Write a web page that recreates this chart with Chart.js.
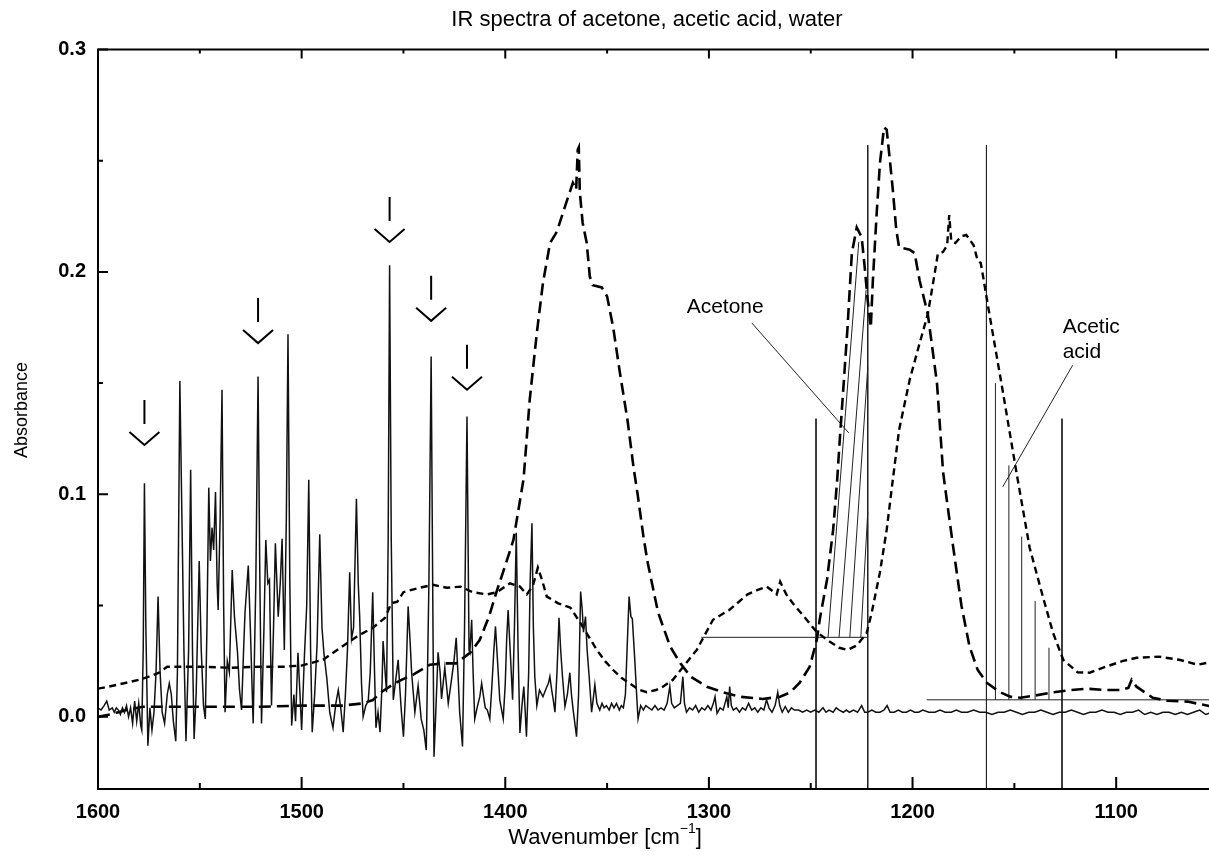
<!DOCTYPE html>
<html>
<head>
<meta charset="utf-8">
<script src="https://cdn.jsdelivr.net/npm/chart.js@4.4.1/dist/chart.umd.min.js"></script>
<style>
  html, body { margin: 0; padding: 0; background: #fff; overflow: hidden; }
  #wrap { width: 1209px; height: 856px; overflow: hidden; }
  canvas { display: block; }
</style>
</head>
<body>
<div id="wrap"><canvas id="ir" width="1230" height="856"></canvas></div>
<script>
// ---- spectra (wavenumber in cm-1, absorbance) ----
const acetoneWn = [1600, 1594, 1586, 1578, 1560, 1540, 1520, 1500, 1480, 1470, 1465, 1461, 1456, 1451, 1445, 1437, 1430, 1424, 1417, 1412.5, 1408, 1404, 1400, 1396, 1391, 1388, 1384.5, 1381.5, 1378, 1374.7, 1371.7, 1368.3, 1366.8, 1365.2, 1364.4, 1363.9, 1363.4, 1362, 1360, 1358.5, 1357, 1352.6, 1350, 1347, 1343.7, 1340, 1337, 1335, 1332, 1330, 1325, 1319, 1314, 1309, 1301, 1293, 1285, 1273.5, 1265, 1260, 1255.4, 1250.5, 1247, 1245.6, 1242, 1239, 1237, 1236, 1232, 1229.8, 1227.4, 1225, 1223.5, 1222, 1220.5, 1219.5, 1217.6, 1216, 1214, 1212.7, 1211, 1209.7, 1208, 1206.6, 1201.4, 1199, 1196.5, 1192.5, 1188, 1185, 1184, 1180, 1176, 1172, 1168, 1163.6, 1157, 1152, 1147, 1140, 1131, 1122, 1114.5, 1105, 1098, 1094, 1092.4, 1090, 1086, 1082, 1075, 1065, 1058, 1050];
const acetoneAbs = [0.0, 0.001, 0.003, 0.0045, 0.0045, 0.0045, 0.0045, 0.005, 0.005, 0.006, 0.0075, 0.011, 0.014, 0.0166, 0.019, 0.0234, 0.024, 0.024, 0.029, 0.0346, 0.045, 0.057, 0.068, 0.0795, 0.107, 0.1425, 0.1726, 0.195, 0.213, 0.218, 0.2265, 0.236, 0.240, 0.237, 0.255, 0.256, 0.236, 0.222, 0.213, 0.198, 0.194, 0.193, 0.189, 0.175, 0.1546, 0.1335, 0.112, 0.1, 0.08, 0.069, 0.047, 0.0315, 0.024, 0.018, 0.0135, 0.011, 0.009, 0.008, 0.009, 0.011, 0.0153, 0.0225, 0.0346, 0.0436, 0.0616, 0.084, 0.1065, 0.121, 0.174, 0.2085, 0.220, 0.2157, 0.2022, 0.187, 0.175, 0.196, 0.2265, 0.249, 0.265, 0.264, 0.249, 0.237, 0.219, 0.211, 0.210, 0.2085, 0.196, 0.181, 0.15, 0.11, 0.103, 0.076, 0.05, 0.0315, 0.021, 0.0153, 0.011, 0.009, 0.0085, 0.0095, 0.011, 0.012, 0.0126, 0.012, 0.012, 0.013, 0.0166, 0.0135, 0.011, 0.0085, 0.0072, 0.0068, 0.0055, 0.004];

const aceticWn = [1600, 1595, 1590, 1585, 1580, 1575, 1570, 1566, 1550, 1535, 1520, 1509, 1500, 1489.5, 1481, 1473, 1465, 1459, 1456, 1453, 1450, 1442, 1435.5, 1428.7, 1422, 1416, 1409, 1404, 1397.7, 1392.8, 1389.4, 1386.4, 1384, 1382, 1379.6, 1374, 1368, 1363, 1359, 1355, 1351, 1347, 1343, 1339, 1334, 1330.5, 1326, 1322.6, 1317.7, 1313, 1306, 1298, 1290, 1281, 1276, 1271.6, 1268, 1266.7, 1265, 1262, 1258.8, 1252, 1247, 1242, 1236, 1232, 1227.4, 1222.5, 1220, 1216, 1212.7, 1209.7, 1206.6, 1201.4, 1196.5, 1192.5, 1189, 1187.6, 1185, 1183, 1182, 1181, 1179, 1176, 1173.6, 1170, 1168, 1166.5, 1165, 1163, 1156, 1149, 1142.5, 1136, 1131, 1126, 1119, 1113, 1105, 1097, 1090, 1079, 1069, 1060, 1055, 1050];
const aceticAbs = [0.0126, 0.0135, 0.0145, 0.0155, 0.0166, 0.018, 0.0198, 0.0225, 0.0225, 0.022, 0.0225, 0.0225, 0.023, 0.0256, 0.031, 0.036, 0.040, 0.0445, 0.051, 0.0517, 0.056, 0.058, 0.0593, 0.058, 0.0585, 0.056, 0.055, 0.056, 0.060, 0.0585, 0.055, 0.059, 0.067, 0.0616, 0.054, 0.051, 0.049, 0.042, 0.036, 0.030, 0.025, 0.021, 0.0175, 0.015, 0.012, 0.011, 0.012, 0.0135, 0.0166, 0.022, 0.030, 0.0436, 0.048, 0.055, 0.057, 0.0585, 0.056, 0.055, 0.0607, 0.055, 0.051, 0.0436, 0.038, 0.0346, 0.031, 0.030, 0.032, 0.0377, 0.047, 0.065, 0.084, 0.1065, 0.129, 0.1515, 0.168, 0.181, 0.2, 0.208, 0.209, 0.212, 0.2256, 0.214, 0.213, 0.216, 0.2166, 0.212, 0.205, 0.204, 0.196, 0.185, 0.148, 0.11, 0.076, 0.054, 0.0377, 0.0256, 0.020, 0.0198, 0.0225, 0.025, 0.0265, 0.027, 0.0256, 0.0234, 0.0243, 0.0235];

const waterWn = [1600, 1598.5, 1597, 1595.7, 1594.5, 1593, 1592, 1591, 1590, 1589, 1588, 1587, 1586, 1585, 1584, 1583, 1582, 1581, 1580, 1579, 1578.5, 1577.8, 1577.2, 1576.5, 1575.5, 1574.5, 1573.5, 1572.5, 1571.5, 1570.5, 1569.5, 1568.5, 1567.3, 1566, 1565, 1564, 1563, 1561.8, 1561, 1559.8, 1558.8, 1557.8, 1556.8, 1555.5, 1554.5, 1553.6, 1552.8, 1551.8, 1550.3, 1549.3, 1548.2, 1547.3, 1546.5, 1545.6, 1544.8, 1544, 1543.2, 1542.3, 1541.5, 1541, 1540, 1539.1, 1538.3, 1537.6, 1536.5, 1535.5, 1534.1, 1533, 1531.5, 1530.5, 1529.5, 1528.5, 1527.8, 1526.2, 1525.2, 1523.8, 1522.5, 1521.4, 1520.5, 1519.7, 1518.5, 1517.6, 1516.6, 1515.8, 1514.8, 1513.8, 1512.9, 1511.5, 1510.5, 1509.6, 1508.5, 1507.5, 1506.7, 1505.8, 1504.9, 1503.8, 1503, 1501.8, 1500.8, 1500, 1498.6, 1497.5, 1496.5, 1495.6, 1494.8, 1493.6, 1492.4, 1491.1, 1490, 1489, 1487.6, 1486.2, 1484.6, 1483.2, 1482, 1480.8, 1479.6, 1478.5, 1477.5, 1476.4, 1475.5, 1474.5, 1473.1, 1472.2, 1471.5, 1470.6, 1469.8, 1468.5, 1467.3, 1466.3, 1465.1, 1464.2, 1463.5, 1462.5, 1461.5, 1460.5, 1460, 1459, 1458.3, 1457.5, 1456.8, 1456, 1455, 1454, 1452.6, 1451.8, 1451, 1450, 1449, 1447.7, 1446.8, 1446, 1444.4, 1442.8, 1441.3, 1440, 1438.8, 1437.5, 1436.4, 1435.5, 1435, 1434, 1433, 1432, 1431.3, 1429.7, 1428, 1426.5, 1425.2, 1424.1, 1423, 1422.4, 1421, 1420, 1418.8, 1417.8, 1417.4, 1416.5, 1415.8, 1415, 1413.6, 1412.5, 1411.6, 1410.5, 1409.8, 1408.8, 1407.6, 1406.5, 1405.6, 1404.8, 1403.8, 1402.7, 1401, 1400, 1399.3, 1398.6, 1397.6, 1396.4, 1395.5, 1394.6, 1393.7, 1392.8, 1391.8, 1390.9, 1390.2, 1389.6, 1388.5, 1387.8, 1386.9, 1386.2, 1385.5, 1384.5, 1383.2, 1381.5, 1379.8, 1378.8, 1378.1, 1377.2, 1376.5, 1375.6, 1374.6, 1373.6, 1372.8, 1371.9, 1370.7, 1369.5, 1368.3, 1367.5, 1366.7, 1365, 1364, 1363, 1362.2, 1361.6, 1360.6, 1359.8, 1358.8, 1357.6, 1356.8, 1356, 1355, 1353.6, 1352.5, 1351.5, 1350.3, 1349, 1347.8, 1346.6, 1345.4, 1344, 1343, 1342, 1341, 1340.2, 1339.2, 1338.3, 1337.6, 1336.4, 1335.5, 1334.8, 1333.5, 1332.2, 1331, 1329.5, 1328, 1326.5, 1325, 1323.5, 1322, 1320.5, 1319.2, 1318.3, 1317, 1315.5, 1314, 1312.8, 1312, 1311, 1309.5, 1308, 1306.5, 1305, 1303.5, 1302, 1300.5, 1299, 1297.8, 1297, 1296, 1294.5, 1293, 1291.8, 1291.2, 1290.5, 1289.8, 1289, 1288, 1286.5, 1285, 1283.5, 1282, 1280.5, 1279, 1277.5, 1276, 1274.5, 1273, 1271.7, 1270.5, 1269, 1267.5, 1266.2, 1265.2, 1264, 1262.5, 1261, 1259.5, 1258, 1256, 1254, 1252, 1250, 1248, 1246, 1244, 1242.5, 1241, 1239, 1237.5, 1236, 1234, 1232.5, 1231, 1229, 1227, 1225, 1223.5, 1222, 1220, 1218, 1216, 1214, 1212.5, 1211, 1209, 1207, 1205, 1203, 1201, 1199, 1197, 1195, 1192, 1189, 1186.5, 1184, 1181, 1178.5, 1176, 1173, 1170, 1167, 1164, 1161, 1158, 1155, 1152, 1149, 1146, 1143, 1140, 1137, 1134, 1131, 1128, 1125, 1122, 1119, 1116, 1113, 1110, 1107, 1104, 1101, 1098, 1095, 1092, 1089, 1086, 1083, 1080, 1077, 1074, 1071, 1068, 1065, 1062, 1059, 1056, 1053, 1050];
const waterAbs = [0.004, 0.003, 0.005, 0.007, 0.003, 0.004, 0.002, 0.004, 0.003, 0.001, 0.004, 0.002, 0.005, 0.0, 0.004, -0.003, 0.007, -0.002, 0.006, -0.004, -0.006, 0.03, 0.105, 0.04, -0.013, 0.004, -0.006, 0.002, 0.02, 0.054, 0.02, 0.002, -0.003, 0.01, 0.015, 0.01, -0.002, -0.011, 0.02, 0.151, 0.09, 0.03, -0.011, 0.03, 0.111, 0.03, -0.01, 0.01, 0.07, 0.03, 0.005, -0.001, 0.04, 0.103, 0.07, 0.085, 0.075, 0.101, 0.06, 0.048, 0.09, 0.147, 0.05, 0.002, 0.025, 0.02, 0.066, 0.045, 0.029, 0.012, 0.003, 0.03, 0.047, 0.068, 0.04, -0.003, 0.06, 0.153, 0.06, -0.003, 0.04, 0.0795, 0.06, 0.0615, 0.005, 0.04, 0.078, 0.045, 0.06, 0.080, 0.03, 0.09, 0.172, 0.06, -0.004, 0.01, -0.002, 0.0287, 0.01, -0.006, 0.028, 0.05, 0.1065, 0.03, -0.007, 0.01, 0.033, 0.082, 0.04, 0.028, 0.017, 0.002, -0.005, 0.006, 0.012, 0.004, -0.007, 0.01, 0.03, 0.065, 0.035, 0.04, 0.098, 0.06, 0.045, 0.015, 0.0, 0.005, 0.007, 0.02, 0.056, 0.02, -0.005, 0.002, -0.007, 0.015, 0.034, 0.02, 0.011, 0.08, 0.203, 0.08, 0.0076, 0.015, 0.0256, 0.013, 0.002, -0.009, 0.01, 0.0496, 0.035, 0.02, 0.002, 0.014, -0.001, -0.006, -0.015, 0.06, 0.162, 0.04, -0.018, 0.005, 0.029, 0.02, 0.008, 0.022, 0.006, 0.016, 0.025, 0.0355, 0.015, 0.002, -0.0134, 0.04, 0.135, 0.03, 0.029, 0.0436, 0.02, -0.001, 0.005, 0.009, 0.015, 0.008, 0.004, 0.003, -0.001, 0.015, 0.03, 0.0406, 0.025, 0.0076, -0.001, 0.015, 0.035, 0.048, 0.03, 0.0076, 0.04, 0.0827, 0.03, -0.0073, 0.005, 0.0136, 0.002, -0.009, 0.02, 0.06, 0.087, 0.04, 0.018, 0.005, 0.012, 0.009, 0.013, 0.015, 0.018, 0.012, 0.008, 0.002, 0.02, 0.0445, 0.03, 0.018, 0.0046, 0.01, 0.0198, 0.01, 0.0033, -0.009, 0.01, 0.0563, 0.048, 0.038, 0.045, 0.03, 0.018, 0.002, 0.008, 0.0144, 0.006, 0.003, 0.006, 0.004, 0.005, 0.003, 0.006, 0.004, 0.006, 0.003, 0.005, 0.004, 0.01, 0.03, 0.054, 0.045, 0.044, 0.0256, 0.01, -0.001, 0.005, 0.003, 0.005, 0.004, 0.003, 0.005, 0.003, 0.004, 0.003, 0.006, 0.0136, 0.006, 0.004, 0.005, 0.006, 0.018, 0.006, 0.002, 0.004, 0.003, 0.005, 0.002, 0.004, 0.003, 0.005, 0.003, 0.006, 0.009, 0.0015, 0.004, 0.003, 0.007, 0.009, 0.004, 0.0136, 0.005, 0.003, 0.004, 0.002, 0.004, 0.003, 0.006, 0.003, 0.004, 0.002, 0.004, 0.003, 0.0076, 0.004, 0.002, 0.005, 0.011, 0.005, 0.002, 0.0046, 0.002, 0.004, 0.003, 0.003, 0.002, 0.003, 0.002, 0.003, 0.002, 0.004, 0.002, 0.003, 0.002, 0.004, 0.003, 0.002, 0.003, 0.002, 0.003, 0.002, 0.005, 0.002, 0.002, 0.003, 0.002, 0.002, 0.003, 0.005, 0.002, 0.002, 0.003, 0.002, 0.002, 0.003, 0.002, 0.002, 0.003, 0.002, 0.002, 0.003, 0.002, 0.002, 0.003, 0.002, 0.002, 0.003, 0.002, 0.002, 0.001, 0.002, 0.002, 0.003, 0.002, 0.001, 0.002, 0.002, 0.003, 0.002, 0.001, 0.002, 0.002, 0.003, 0.002, 0.001, 0.002, 0.002, 0.003, 0.002, 0.002, 0.001, 0.002, 0.002, 0.003, 0.001, 0.002, 0.001, 0.002, 0.002, 0.001, 0.002, 0.001, 0.002, 0.003, 0.001, 0.002, 0.002];

// ---- axes ----
const xTickValues = [1600, 1500, 1400, 1300, 1200, 1100];
const xMinorValues = [1550, 1450, 1350, 1250, 1150];
const yTickValues = [0.0, 0.1, 0.2, 0.3];
const yMinorValues = [0.05, 0.15, 0.25];

// ---- marked water lines (peak wavenumber, arrow tip absorbance) ----
const markedPeaks = [1577.2, 1521.4, 1456.8, 1436.4, 1418.8];
const markTipAbs = [0.1222, 0.168, 0.2135, 0.178, 0.147];

// ---- evaluation windows ----
const acetoneWindowWn = [1247.4, 1222.0];
const acetoneWindowTop = [0.134, 0.257];
const acetoneBaseline = [1303.7, 1222.0, 0.0357];
const acetoneHatchStart = [1241.5, 1236.1, 1230.8, 1225.4];
const acetoneHatchEndWn = [1226.4, 1222.8, 1222.0, 1222.0];
const acetoneHatchEndAbs = [0.2135, 0.192, 0.157, 0.092];

const aceticWindowWn = [1163.7, 1126.6];
const aceticWindowTop = [0.257, 0.134];
const aceticBaseline = [1193.0, 1050, 0.0076];
const aceticStickWn = [1159.3, 1152.7, 1146.4, 1139.8, 1133.0];
const aceticStickTop = [0.150, 0.113, 0.081, 0.052, 0.031];

const Y_MIN = -0.0325, Y_MAX = 0.3;

const pts = (xs, ys) => xs.map((x, i) => ({ x, y: ys[i] }));

// guide lines: separate segments joined with gaps
const guide = [];
const seg = (x1, y1, x2, y2) => guide.push({ x: x1, y: y1 }, { x: x2, y: y2 }, { x: x2, y: null });
acetoneWindowWn.forEach((w, i) => seg(w, acetoneWindowTop[i], w, Y_MIN));
seg(acetoneBaseline[0], acetoneBaseline[2], acetoneBaseline[1], acetoneBaseline[2]);
acetoneHatchStart.forEach((w, i) => seg(w, acetoneBaseline[2], acetoneHatchEndWn[i], acetoneHatchEndAbs[i]));
aceticWindowWn.forEach((w, i) => seg(w, aceticWindowTop[i], w, Y_MIN));
seg(aceticBaseline[0], aceticBaseline[2], aceticBaseline[1], aceticBaseline[2]);
aceticStickWn.forEach((w, i) => seg(w, aceticBaseline[2], w, aceticStickTop[i]));
// label leaders
seg(1278.9, 0.177, 1231.3, 0.1276);
seg(1121.4, 0.158, 1155.7, 0.1034);

const FONT = "'Liberation Sans', Arial, Helvetica, sans-serif";

const framePlugin = {
  id: 'frame',
  afterDraw(chart) {
    const { ctx, chartArea: a, scales: { x, y } } = chart;
    ctx.save();
    ctx.strokeStyle = '#000';
    ctx.lineWidth = 2;
    ctx.beginPath();
    ctx.moveTo(a.right + 4, a.top); ctx.lineTo(a.left, a.top);
    ctx.lineTo(a.left, a.bottom); ctx.lineTo(a.right + 4, a.bottom);
    ctx.stroke();

    // inward tick marks
    ctx.beginPath();
    xTickValues.forEach(v => {
      const px = x.getPixelForValue(v);
      ctx.moveTo(px, a.bottom); ctx.lineTo(px, a.bottom - 12);
      ctx.moveTo(px, a.top); ctx.lineTo(px, a.top + 9);
    });
    xMinorValues.forEach(v => {
      const px = x.getPixelForValue(v);
      ctx.moveTo(px, a.bottom); ctx.lineTo(px, a.bottom - 6);
      ctx.moveTo(px, a.top); ctx.lineTo(px, a.top + 4);
    });
    yTickValues.forEach(v => {
      const py = y.getPixelForValue(v);
      ctx.moveTo(a.left, py); ctx.lineTo(a.left + 10, py);
    });
    yMinorValues.forEach(v => {
      const py = y.getPixelForValue(v);
      ctx.moveTo(a.left, py); ctx.lineTo(a.left + 5, py);
    });
    ctx.stroke();

    // arrows above the marked water lines
    ctx.beginPath();
    markedPeaks.forEach((w, i) => {
      const px = x.getPixelForValue(w);
      const py = y.getPixelForValue(markTipAbs[i]);
      ctx.moveTo(px - 15, py - 13); ctx.lineTo(px, py); ctx.lineTo(px + 15, py - 13);
      ctx.moveTo(px, py - 21); ctx.lineTo(px, py - 45);
    });
    ctx.stroke();

    ctx.fillStyle = '#000';
    ctx.textBaseline = 'middle';

    // chart title
    ctx.textAlign = 'center';
    ctx.font = `22px ${FONT}`;
    ctx.fillText('IR spectra of acetone, acetic acid, water', 647, 20);

    // band labels
    ctx.font = `21px ${FONT}`;
    ctx.fillText('Acetone', x.getPixelForValue(1292), y.getPixelForValue(0.184));
    ctx.textAlign = 'left';
    ctx.fillText('Acetic', x.getPixelForValue(1126.3), y.getPixelForValue(0.1753));
    ctx.fillText('acid', x.getPixelForValue(1126.3), y.getPixelForValue(0.164));

    // y axis title
    ctx.save();
    ctx.translate(22, 410);
    ctx.rotate(-Math.PI / 2);
    ctx.textAlign = 'center';
    ctx.font = `18px ${FONT}`;
    ctx.fillText('Absorbance', 0, 0);
    ctx.restore();

    // x axis title with superscript
    const cx = 605, cy = 838;
    const main = 'Wavenumber [cm', sup = '\u22121', close = ']';
    ctx.font = `22px ${FONT}`;
    const w1 = ctx.measureText(main).width, w3 = ctx.measureText(close).width;
    ctx.font = `14px ${FONT}`;
    const w2 = ctx.measureText(sup).width;
    const sx = cx - (w1 + w2 + w3) / 2;
    ctx.textAlign = 'left';
    ctx.font = `22px ${FONT}`;
    ctx.fillText(main, sx, cy);
    ctx.font = `14px ${FONT}`;
    ctx.fillText(sup, sx + w1, cy - 9);
    ctx.font = `22px ${FONT}`;
    ctx.fillText(close, sx + w1 + w2, cy);
    ctx.restore();
  }
};

new Chart(document.getElementById('ir'), {
  type: 'line',
  data: {
    datasets: [
      { label: 'Water', data: pts(waterWn, waterAbs), borderColor: '#111', borderWidth: 1.5, order: 0 },
      { label: 'Acetone', data: pts(acetoneWn, acetoneAbs), borderColor: '#000', borderWidth: 2.6, borderDash: [12, 6], order: 1 },
      { label: 'Acetic acid', data: pts(aceticWn, aceticAbs), borderColor: '#000', borderWidth: 2.4, borderDash: [7, 4.5], order: 2 },
      { label: 'Windows', data: guide, borderColor: '#222', borderWidth: 1, order: 3, spanGaps: false }
    ]
  },
  options: {
    responsive: false,
    animation: false,
    devicePixelRatio: 1,
    events: [],
    elements: { point: { radius: 0 }, line: { tension: 0, borderCapStyle: 'butt' } },
    layout: { padding: { top: 49.5, left: 0, right: 12, bottom: 0 } },
    plugins: {
      legend: { display: false },
      tooltip: { enabled: false },
      title: { display: false }
    },
    scales: {
      x: {
        type: 'linear',
        reverse: true,
        min: 1050,
        max: 1600,
        afterBuildTicks: s => { s.ticks = xTickValues.map(v => ({ value: v })); },
        afterFit: s => { s.height = 67; },
        grid: { display: false, drawTicks: false },
        border: { display: false },
        ticks: { color: '#000', padding: 11, font: { family: FONT, size: 20, weight: 'bold' }, maxRotation: 0, callback: v => String(v) }
      },
      y: {
        type: 'linear',
        min: Y_MIN,
        max: Y_MAX,
        afterBuildTicks: s => { s.ticks = yTickValues.map(v => ({ value: v })); },
        afterFit: s => { s.width = 98; },
        grid: { display: false, drawTicks: false },
        border: { display: false },
        ticks: { color: '#000', padding: 12, font: { family: FONT, size: 20, weight: 'bold' }, callback: v => v.toFixed(1) }
      }
    }
  },
  plugins: [framePlugin]
});
</script>
</body>
</html>
